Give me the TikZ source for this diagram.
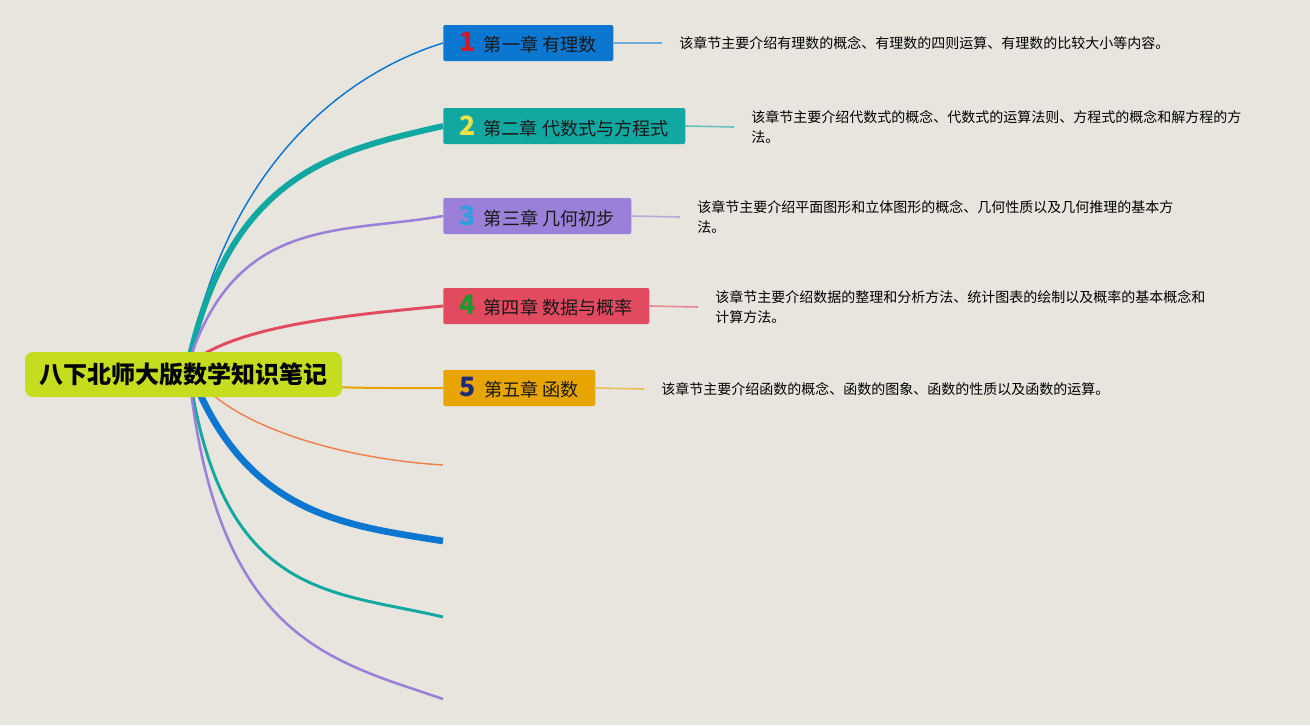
\documentclass[tikz,border=0pt]{standalone}
\usepackage{fontspec}
\setmainfont{Noto Sans CJK SC}
\usetikzlibrary{backgrounds}
\definecolor{bgc}{HTML}{E8E5DE}
\definecolor{lime}{HTML}{C5DC1F}
\definecolor{cblue}{HTML}{0C77D0}
\definecolor{cteal}{HTML}{12A8A2}
\definecolor{cpurple}{HTML}{9A80D8}
\definecolor{cred}{HTML}{E24A5F}
\definecolor{cgold}{HTML}{E8A500}
\definecolor{ccoral}{HTML}{F08050}
\definecolor{nred}{HTML}{D4182C}
\definecolor{nyellow}{HTML}{F2E046}
\definecolor{nsky}{HTML}{2E9FE3}
\definecolor{ngreen}{HTML}{21962E}
\definecolor{nnavy}{HTML}{1C2C7A}
\newcommand{\chnum}[2]{{\fontsize{20}{20}\selectfont\bfseries\color{#1}#2}\hspace{6pt}}

\begin{document}
\begin{tikzpicture}[x=0.75pt, y=-0.75pt,
    chap/.style={anchor=west, minimum height=27pt, inner xsep=4pt, inner ysep=0pt, rounded corners=1.5pt, text=black!90, font=\fontsize{13.6}{15}\selectfont},
    desc/.style={anchor=west, align=left, inner xsep=12.75pt, font=\fontsize{10.5}{15}\selectfont},
    tie/.style={line width=1.2pt}]
    \node[fill=lime, rounded corners=6pt, minimum width=237.75pt, minimum height=33.75pt, font=\fontsize{18}{20}\selectfont\bfseries] (root) at (183.5,374.5) {八下北师大版数学知识笔记};
    \coordinate (hub) at (188,365);

    \node[chap, fill=cblue, minimum width=127.5pt] (c1) at (443,43) {\chnum{nred}{1}第一章 有理数};
    \node[chap, fill=cteal, minimum width=181.5pt] (c2) at (443,126) {\chnum{nyellow}{2}第二章 代数式与方程式};
    \node[chap, fill=cpurple, minimum width=141pt] (c3) at (443,216) {\chnum{nsky}{3}第三章 几何初步};
    \node[chap, fill=cred, minimum width=154.5pt] (c4) at (443,306) {\chnum{ngreen}{4}第四章 数据与概率};
    \node[chap, fill=cgold, minimum width=114pt] (c5) at (443,388) {\chnum{nnavy}{5}第五章 函数};

    \node[desc] (d1) at (662,43) {该章节主要介绍有理数的概念、有理数的四则运算、有理数的比较大小等内容。};
    \node[desc] (d2) at (734,127) {该章节主要介绍代数式的概念、代数式的运算法则、方程式的概念和解方程的方\\法。};
    \node[desc] (d3) at (680,217) {该章节主要介绍平面图形和立体图形的概念、几何性质以及几何推理的基本方\\法。};
    \node[desc] (d4) at (698,307) {该章节主要介绍数据的整理和分析方法、统计图表的绘制以及概率的基本概念和\\计算方法。};
    \node[desc] (d5) at (644,389) {该章节主要介绍函数的概念、函数的图象、函数的性质以及函数的运算。};

    \coordinate (e6) at (443,465);
    \coordinate (e7) at (443,541);
    \coordinate (e8) at (443,617);
    \coordinate (e9) at (443,699);

    \begin{pgfonlayer}{background}
        \fill[bgc] (0,0) rectangle (1310,725);
        \draw[cblue, line width=1.1pt] (hub) .. controls (225,170) and (340,75) .. (c1.west);
        \draw[cteal, line width=4.5pt] (hub) .. controls (230,170) and (340,150) .. (c2.west);
        \draw[cpurple, line width=1.9pt] (hub) .. controls (235,215) and (340,234) .. (c3.west);
        \draw[cred, line width=2.2pt] (hub) .. controls (235,325) and (350,315) .. (c4.west);
        \draw[cgold, line width=1.5pt] (hub) .. controls (248,390) and (363,388) .. (c5.west);
        \draw[ccoral, line width=1.1pt] (hub) .. controls (215,420) and (330,458) .. (e6);
        \draw[cblue, line width=5pt] (hub) .. controls (243,515) and (343,525) .. (e7);
        \draw[cteal, line width=2.2pt] (hub) .. controls (220,600) and (330,590) .. (e8);
        \draw[cpurple, line width=1.9pt] (hub) .. controls (215,640) and (330,660) .. (e9);

        \draw[tie, cblue!55!bgc] (c1.east) -- (d1.west);
        \draw[tie, cteal!60!bgc] (c2.east) -- (d2.west);
        \draw[tie, cpurple!60!bgc] (c3.east) -- (d3.west);
        \draw[tie, cred!60!bgc] (c4.east) -- (d4.west);
        \draw[tie, cgold!60!bgc] (c5.east) -- (d5.west);
    \end{pgfonlayer}
\end{tikzpicture}
\end{document}
